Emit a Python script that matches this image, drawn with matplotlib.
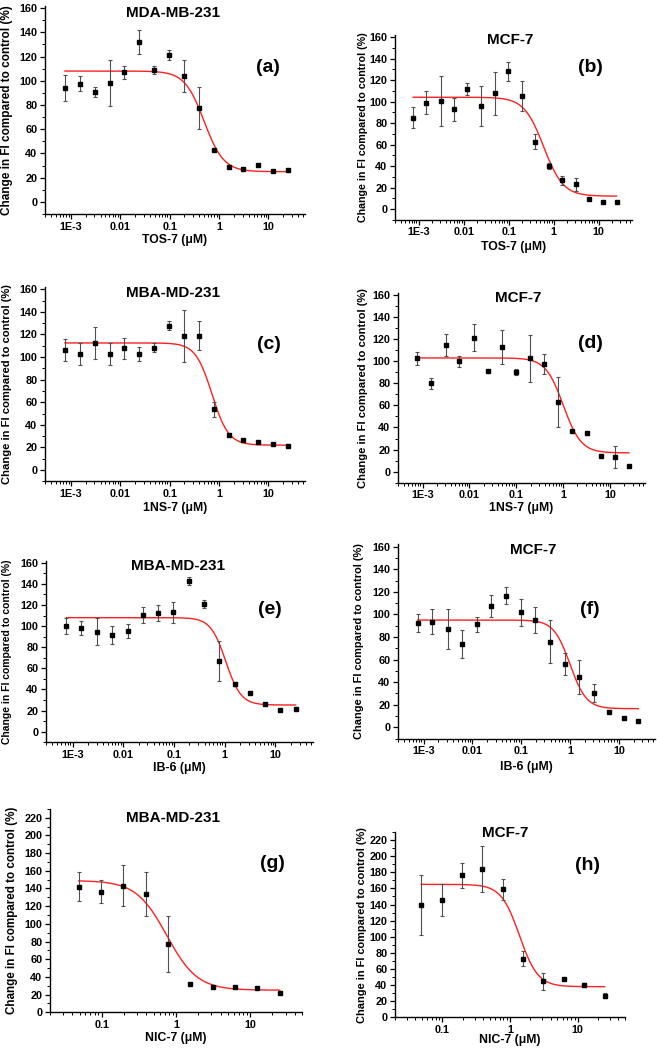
import numpy as np
import matplotlib
matplotlib.use("Agg")
import matplotlib.pyplot as plt
from matplotlib.ticker import FixedLocator, LogLocator, MultipleLocator, NullFormatter

plt.rcParams['font.family'] = ['Liberation Sans', 'DejaVu Sans']
plt.rcParams['font.weight'] = 'bold'

# concentrations (uM), two-fold dilutions
conc = [0.00076, 0.0015, 0.0031, 0.0061, 0.0122, 0.0244, 0.0488, 0.0977,
        0.195, 0.39, 0.78, 1.56, 3.125, 6.25, 12.5, 25]
conc_nic = [0.0488, 0.0977, 0.195, 0.39, 0.78, 1.56, 3.125, 6.25, 12.5, 25]

# (a) TOS-7, MDA-MB-231
a_y = [94.0, 97.6, 90.7, 98.1, 107.0, 131.7, 109.0, 121.5, 104.0, 77.5, 43.0, 28.6, 27.5, 30.2, 25.3, 26.7]
a_err = [10.5, 6, 4, 19, 5.5, 10, 3.5, 4, 13.5, 17.5, 0, 0, 0, 0, 0, 0]
# (b) TOS-7, MCF-7
b_y = [85, 99, 100.7, 92.7, 111.5, 95.8, 107.5, 128, 105, 62.7, 40, 26.6, 23.2, 9.6, 6.5, 6.2]
b_err = [10, 11, 23.5, 11, 5.7, 18.5, 20, 9, 14, 7, 2.8, 4.6, 6, 1, 0, 0]
# (c) 1NS-7, MBA-MD-231
c_y = [106.3, 102.7, 112.2, 102.7, 107.7, 102.7, 108.3, 127.8, 118.7, 119, 53.7, 31, 26.6, 24.5, 23.3, 21.5]
c_err = [9.5, 10, 14, 10, 9.5, 6.5, 4, 4, 23, 12.5, 6.5, 1, 1, 1, 1, 0.5]
# (d) 1NS-7, MCF-7
d_y = [102.6, 80, 114.4, 100.2, 121.4, 91.5, 112.6, 90, 102.6, 97.2, 63.4, 37.1, 34.7, 14.5, 13.6, 5.4]
d_err = [5.7, 5, 10, 5, 12, 0.5, 15.5, 2.6, 21, 9, 22.6, 1, 1.5, 0.5, 10, 0]
# (e) IB-6, MBA-MD-231
e_y = [100, 97.8, 94.7, 91.5, 95.3, 110.4, 112.7, 113, 142.6, 120.9, 67.2, 45.1, 36.3, 25.9, 20.5, 21.8]
e_err = [7.7, 6.6, 13, 8.7, 6.8, 7.9, 7.5, 9.8, 3.8, 4.2, 19, 1.5, 0.5, 1, 0.5, 0.5]
# (f) IB-6, MCF-7
f_y = [92.1, 93.6, 87.1, 73.8, 91.2, 107.5, 116.6, 101.8, 95, 75.9, 56, 44.9, 30.1, 13.3, 8.6, 5.9]
f_err = [8, 11, 18, 12.5, 6.7, 10, 7.5, 12, 11.5, 19, 10, 15, 8, 1, 0.5, 0.5]
# (g) NIC-7, MBA-MD-231
g_y = [142, 136.4, 143.2, 133.4, 77.2, 31.6, 28.3, 28.3, 27.9, 22.2]
g_err = [16.4, 12.8, 22.8, 25, 31.6, 1, 1, 1, 1, 1]
# (h) NIC-7, MCF-7
h_y = [139.4, 145.6, 176.6, 184.4, 158.8, 72.8, 45, 47.6, 40.1, 26.5]
h_err = [36.8, 20.3, 15.5, 28.7, 13.2, 8.9, 10.5, 1, 2.9, 3.1]

# dose-response fit: top, bottom, IC50, hill slope
fit_a = [108, 25, 0.5, 2.2]
fit_b = [104, 12, 0.6, 2.0]
fit_c = [112.5, 22, 0.72, 2.6]
fit_d = [103, 17, 1.0, 2.3]
fit_e = [108, 25.3, 1.05, 2.9]
fit_f = [95, 16.5, 1.0, 2.6]
fit_g = [149, 25, 0.75, 2.1]
fit_h = [165, 38, 1.38, 3.2]

titles = ['MDA-MB-231', 'MCF-7', 'MBA-MD-231', 'MCF-7', 'MBA-MD-231', 'MCF-7', 'MBA-MD-231', 'MCF-7']
letters = ['(a)', '(b)', '(c)', '(d)', '(e)', '(f)', '(g)', '(h)']
xlabels = ['TOS-7 (μM)', 'TOS-7 (μM)', '1NS-7 (μM)', '1NS-7 (μM)',
           'IB-6 (μM)', 'IB-6 (μM)', 'NIC-7 (μM)', 'NIC-7 (μM)']
ylabel = 'Change in FI compared to control (%)'
ticks_long = [1e-3, 1e-2, 0.1, 1, 10]
ticklabels_long = ['1E-3', '0.01', '0.1', '1', '10']
ticks_short = [0.1, 1, 10]
ticklabels_short = ['0.1', '1', '10']

W, H = 657, 1050
fig = plt.figure(figsize=(W / 100, H / 100), dpi=100)

# axes boxes in pixels: left, top, right, bottom
boxes = [(45, 5.6, 305, 214.1), (395, 34.9, 632, 219.8),
         (45, 287, 305, 481.3), (398, 292.8, 645, 482.7),
         (46, 560.6, 313, 742.3), (398, 544.4, 655, 738.6),
         (50, 808.9, 302, 1012.3), (395, 832, 625, 1017.3)]
title_pos = [(173, 13), (510, 40), (173, 293), (518, 298),
             (178, 566), (533, 550), (173, 818), (505, 833)]
letter_pos = [(268, 67), (590, 68), (269, 345), (590, 343),
              (270, 609), (590, 609), (272, 863), (588, 866)]
ylabel_x = [7, 363, 7, 363, 7, 359, 12, 362]
ylabel_size = [8.5, 7.7, 8.1, 8.1, 7.5, 7.9, 8.4, 7.9]
xlabel_y = [240, 247, 508, 508, 768, 767, 1038, 1040]

panels = [(conc, a_y, a_err, fit_a), (conc, b_y, b_err, fit_b),
          (conc, c_y, c_err, fit_c), (conc, d_y, d_err, fit_d),
          (conc, e_y, e_err, fit_e), (conc, f_y, f_err, fit_f),
          (conc_nic, g_y, g_err, fit_g), (conc_nic, h_y, h_err, fit_h)]


def fx(v):
    return v / W


def fy(v):
    return 1 - v / H


for i, (x, y, err, fit) in enumerate(panels):
    l, t, r, b = boxes[i]
    ax = fig.add_axes([fx(l), fy(b), (r - l) / W, (b - t) / H])
    ax.set_xscale('log')
    top, bottom, ic50, hill = fit
    xx = np.logspace(np.log10(x[0]), np.log10(x[-1]), 300)
    ax.plot(xx, bottom + (top - bottom) / (1 + (xx / ic50) ** hill), color='#ff2020', lw=1.0, zorder=2)
    ax.errorbar(x, y, yerr=err, fmt='s', color='black', ms=3.3, ecolor='#505050',
                elinewidth=0.8, capsize=1.6, capthick=0.8, zorder=3)

    if i < 6:
        ax.set_xlim(3e-4, 55)
        ax.set_ylim(-10, 162)
        ax.xaxis.set_major_locator(FixedLocator(ticks_long))
        ax.set_xticklabels(ticklabels_long)
        ax.set_yticks(list(range(0, 161, 20)))
    else:
        ax.set_xlim(0.02, 50)
        ax.set_ylim(0, 230)
        ax.xaxis.set_major_locator(FixedLocator(ticks_short))
        ax.set_xticklabels(ticklabels_short)
        ax.set_yticks(list(range(0, 221, 20)))
    ax.yaxis.set_minor_locator(MultipleLocator(10))
    ax.xaxis.set_minor_locator(LogLocator(base=10, subs=np.arange(2, 10)))
    ax.xaxis.set_minor_formatter(NullFormatter())

    for s in ['top', 'right']:
        ax.spines[s].set_visible(False)
    for s in ['left', 'bottom']:
        ax.spines[s].set_linewidth(1.0)
    ax.tick_params(which='major', direction='out', length=3.5, width=0.9, labelsize=7.8, pad=2)
    ax.tick_params(which='minor', direction='out', length=2, width=0.7)
    for lab in ax.get_xticklabels() + ax.get_yticklabels():
        lab.set_fontweight('bold')

    ax.set_ylabel(ylabel, fontsize=ylabel_size[i], fontweight='bold', va='center')
    ax.yaxis.set_label_coords((ylabel_x[i] - l) / (r - l), 0.5)
    ax.set_xlabel(xlabels[i], fontsize=8.8, fontweight='bold', va='center')
    ax.xaxis.set_label_coords(0.5, (b - xlabel_y[i]) / (b - t))

    fig.text(fx(title_pos[i][0]), fy(title_pos[i][1]), titles[i], fontsize=11,
             fontweight='bold', ha='center', va='center')
    fig.text(fx(letter_pos[i][0]), fy(letter_pos[i][1]), letters[i], fontsize=14,
             fontweight='bold', ha='center', va='center')

fig.savefig('out.png', dpi=100)
